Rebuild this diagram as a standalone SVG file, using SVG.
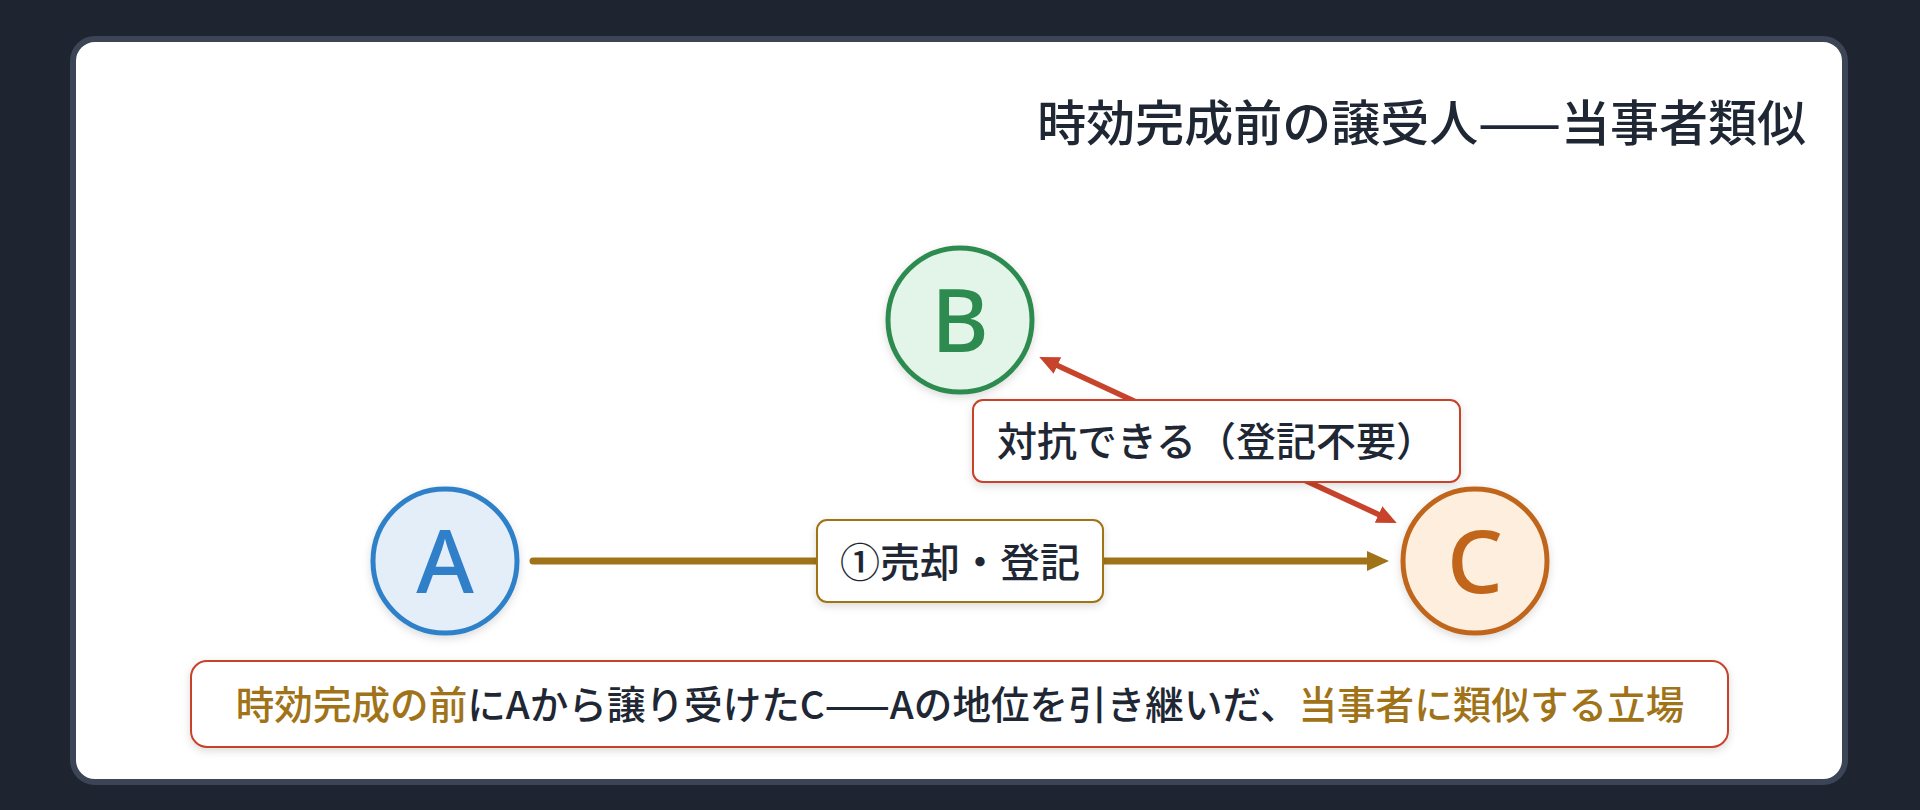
<svg xmlns="http://www.w3.org/2000/svg" width="1920" height="810" viewBox="0 0 1920 810">
  <style>
    .jp { font-family: "Noto Sans CJK JP", "Noto Sans", sans-serif; }
    .title { font-size: 49px; font-weight: 500; fill: #1e2733; }
    .lbl { font-size: 40px; font-weight: 500; fill: #1e2733; }
    .note { font-size: 38.6px; font-weight: 500; fill: #1e2733; }
    .hl { fill: #a07318; }
    .node-letter { font-family: "Noto Sans", "Liberation Sans", sans-serif; font-size: 88px; font-weight: 500; text-anchor: middle; }
    .node circle { stroke-width: 5; }
    .box { fill: #ffffff; stroke-width: 2; }
  </style>
  <defs>
    <filter id="sh" x="-20%" y="-20%" width="140%" height="150%">
      <feDropShadow dx="0" dy="3" stdDeviation="4" flood-color="#000000" flood-opacity="0.14"/>
    </filter>
    <marker id="goldHead" markerUnits="userSpaceOnUse" markerWidth="23" markerHeight="21" refX="7" refY="10" orient="auto">
      <path d="M0,0 L22,10 L0,20 z" fill="#a07318"/>
    </marker>
    <marker id="redHead" markerUnits="userSpaceOnUse" markerWidth="21" markerHeight="19" refX="6" refY="9" orient="auto-start-reverse">
      <path d="M0,0 L20,9 L0,18 z" fill="#c8432b"/>
    </marker>
  </defs>

  <rect x="0" y="0" width="1920" height="810" fill="#1e2430"/>
  <rect id="panel" x="73" y="39" width="1772" height="743" rx="22" fill="#ffffff" stroke="#3b4555" stroke-width="6"/>

  <text id="title" class="jp title" x="1806" y="141" text-anchor="end">時効完成前の譲受人——当事者類似</text>

  <g id="connectors">
    <line x1="533" y1="561" x2="1374" y2="561" stroke="#a07318" stroke-width="7" stroke-linecap="round" marker-end="url(#goldHead)"/>
    <line x1="1052" y1="363" x2="1384" y2="517" stroke="#c8432b" stroke-width="5.5" marker-start="url(#redHead)" marker-end="url(#redHead)"/>
    <g id="label-sale">
      <rect class="box" x="817" y="520" width="286" height="82" rx="10" stroke="#a07318" filter="url(#sh)"/>
      <text class="jp lbl" x="960" y="577" text-anchor="middle">①売却・登記</text>
    </g>
    <g id="label-oppose">
      <rect class="box" x="973" y="400" width="487" height="82" rx="10" stroke="#c8432b" filter="url(#sh)"/>
      <text class="jp lbl" x="1216.5" y="456" text-anchor="middle">対抗できる（登記不要）</text>
    </g>
  </g>

  <g id="node-A" class="node">
    <circle cx="445" cy="561" r="72" fill="#e4eef9" stroke="#2f80c8" filter="url(#sh)"/>
    <text class="node-letter" x="445" y="593" fill="#2f80c8">A</text>
  </g>
  <g id="node-B" class="node">
    <circle cx="960" cy="320" r="72" fill="#e3f5e8" stroke="#2e8b50" filter="url(#sh)"/>
    <text class="node-letter" x="960" y="352" fill="#2e8b50">B</text>
  </g>
  <g id="node-C" class="node">
    <circle cx="1475" cy="561" r="72" fill="#fdeede" stroke="#c0651a" filter="url(#sh)"/>
    <text class="node-letter" x="1475" y="593" fill="#c0651a">C</text>
  </g>

  <g id="note">
    <rect class="box" x="191" y="661" width="1537" height="86" rx="16" stroke="#c8432b" stroke-width="2.5" filter="url(#sh)"/>
    <text class="jp note" x="960" y="719" text-anchor="middle"><tspan class="hl">時効完成の前</tspan>にAから譲り受けたC——Aの地位を引き継いだ、<tspan class="hl">当事者に類似する立場</tspan></text>
  </g>
</svg>
